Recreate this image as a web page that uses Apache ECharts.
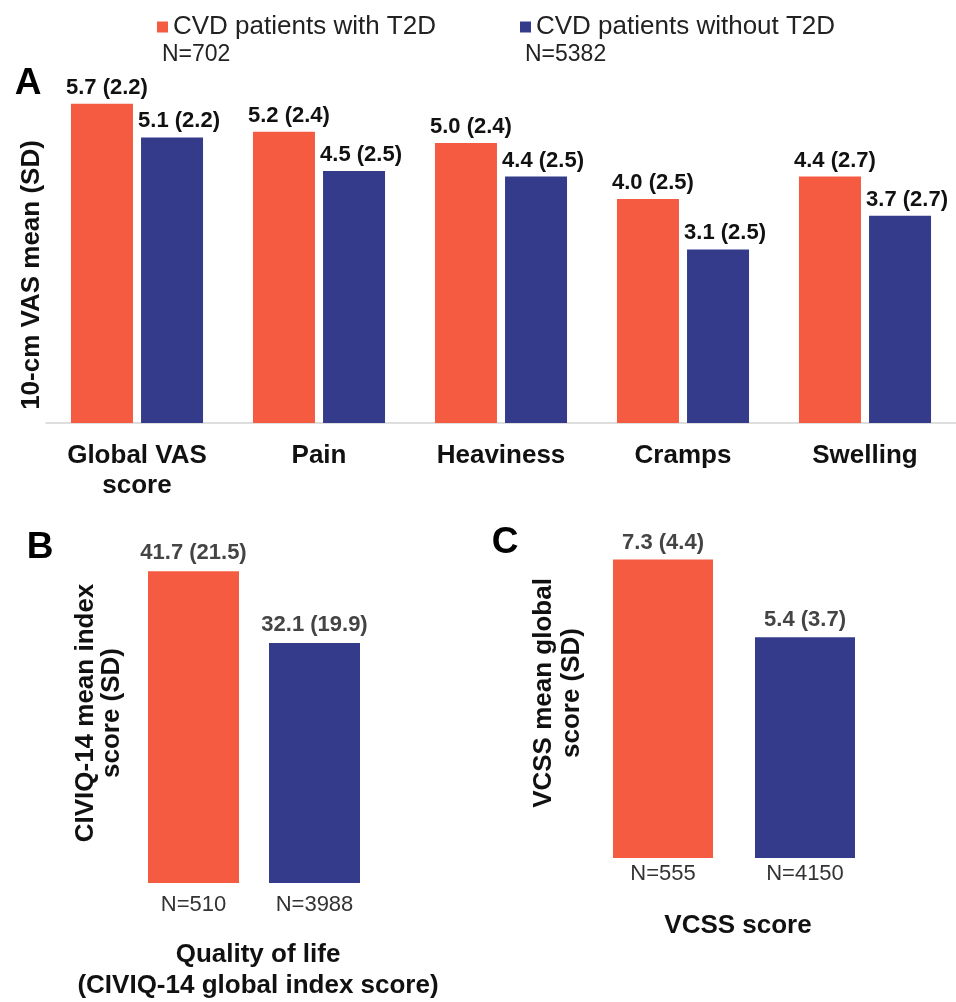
<!DOCTYPE html>
<html><head><meta charset="utf-8">
<script src="https://cdn.jsdelivr.net/npm/echarts@6/dist/echarts.min.js"></script>
<style>html,body{margin:0;padding:0;background:#fff}#c{width:956px;height:1002px}</style>
</head><body><div id="c"></div>
<script>
// ---- data ----
const seriesNames = ['CVD patients with T2D', 'CVD patients without T2D'];
const legendN = ['N=702', 'N=5382'];
const vasCategories = ['Global VAS\nscore', 'Pain', 'Heaviness', 'Cramps', 'Swelling'];
const vasWithT2D = [5.7, 5.2, 5.0, 4.0, 4.4];
const vasWithT2DSD = [2.2, 2.4, 2.4, 2.5, 2.7];
const vasWithoutT2D = [5.1, 4.5, 4.4, 3.1, 3.7];
const vasWithoutT2DSD = [2.2, 2.5, 2.5, 2.5, 2.7];
const qolCategories = ['N=510', 'N=3988'];
const qolMeans = [41.7, 32.1];
const qolSD = [21.5, 19.9];
const vcssCategories = ['N=555', 'N=4150'];
const vcssMeans = [7.3, 5.4];
const vcssSD = [4.4, 3.7];
const titles = {
  vasY: '10-cm VAS mean (SD)',
  qolY: 'CIVIQ-14 mean index\nscore (SD)',
  qolX: 'Quality of life\n(CIVIQ-14 global index score)',
  vcssY: 'VCSS mean global\nscore (SD)',
  vcssX: 'VCSS score'
};

// ---- style ----
const RED = '#F45B40';
const BLUE = '#353B8B';
const FONT = '"Liberation Sans", Arial, Helvetica, sans-serif';
const fmt = (v, sd) => v.toFixed(1) + ' (' + sd.toFixed(1) + ')';

const chart = echarts.init(document.getElementById('c'), null, {renderer: 'canvas'});

function hiddenY(idx, max) {
  return {type: 'value', gridIndex: idx, min: 0, max: max, show: false, splitLine: {show: false}};
}

const option = {
  backgroundColor: '#fff',
  animation: false,
  textStyle: {fontFamily: FONT},
  legend: {
    data: seriesNames,
    left: 152, top: 9,
    icon: 'rect', itemWidth: 11, itemHeight: 11, itemGap: 84,
    textStyle: {fontFamily: FONT, fontSize: 26, color: '#222', lineHeight: 26}
  },
  grid: [
    {left: 46, top: 87, width: 910, height: 336},
    {left: 133, top: 546.5, width: 242, height: 337.5},
    {left: 592, top: 490, width: 284, height: 368}
  ],
  xAxis: [
    {
      type: 'category', gridIndex: 0, data: vasCategories,
      axisLine: {lineStyle: {color: '#d4d4d4', width: 1.5}},
      axisTick: {show: false},
      axisLabel: {fontFamily: FONT, fontSize: 26, fontWeight: 'bold', color: '#111', lineHeight: 30, margin: 18, interval: 0}
    },
    {
      type: 'category', gridIndex: 1, data: qolCategories,
      axisLine: {show: false}, axisTick: {show: false},
      axisLabel: {fontFamily: FONT, fontSize: 22, color: '#333', margin: 11, interval: 0},
      name: titles.qolX, nameLocation: 'middle', nameGap: 56,
      nameTextStyle: {fontFamily: FONT, fontSize: 26, fontWeight: 'bold', color: '#111', lineHeight: 31, padding: [0, 0, 0, 8]}
    },
    {
      type: 'category', gridIndex: 2, data: vcssCategories,
      axisLine: {show: false}, axisTick: {show: false},
      axisLabel: {fontFamily: FONT, fontSize: 22, color: '#333', margin: 5, interval: 0},
      name: titles.vcssX, nameLocation: 'middle', nameGap: 52,
      nameTextStyle: {fontFamily: FONT, fontSize: 26, fontWeight: 'bold', color: '#111', lineHeight: 31, padding: [0, 0, 0, 8]}
    }
  ],
  yAxis: [hiddenY(0, 6), hiddenY(1, 45), hiddenY(2, 9)],
  series: [
    {
      name: seriesNames[0], type: 'bar', xAxisIndex: 0, yAxisIndex: 0,
      data: vasWithT2D, barWidth: 62, barGap: '13%',
      itemStyle: {color: RED},
      label: {show: true, position: 'top', distance: 5, offset: [5, 0], fontFamily: FONT, fontSize: 22, fontWeight: 'bold', color: '#111',
        formatter: p => fmt(vasWithT2D[p.dataIndex], vasWithT2DSD[p.dataIndex])}
    },
    {
      name: seriesNames[1], type: 'bar', xAxisIndex: 0, yAxisIndex: 0,
      data: vasWithoutT2D, barWidth: 62, barGap: '13%',
      itemStyle: {color: BLUE},
      label: {show: true, position: 'top', distance: 5, offset: [7, 0], fontFamily: FONT, fontSize: 22, fontWeight: 'bold', color: '#111',
        formatter: p => fmt(vasWithoutT2D[p.dataIndex], vasWithoutT2DSD[p.dataIndex])}
    },
    {
      name: 'qol', type: 'bar', xAxisIndex: 1, yAxisIndex: 1, barWidth: 91,
      data: qolMeans.map((v, i) => ({value: v, itemStyle: {color: i === 0 ? RED : BLUE}})),
      label: {show: true, position: 'top', distance: 7, fontFamily: FONT, fontSize: 22, fontWeight: 'bold', color: '#444',
        formatter: p => fmt(qolMeans[p.dataIndex], qolSD[p.dataIndex])}
    },
    {
      name: 'vcss', type: 'bar', xAxisIndex: 2, yAxisIndex: 2, barWidth: 100,
      data: vcssMeans.map((v, i) => ({value: v, itemStyle: {color: i === 0 ? RED : BLUE}})),
      label: {show: true, position: 'top', distance: 6, fontFamily: FONT, fontSize: 22, fontWeight: 'bold', color: '#444',
        formatter: p => fmt(vcssMeans[p.dataIndex], vcssSD[p.dataIndex])}
    }
  ],
  graphic: [
    {type: 'text', x: 162, y: 55, style: {text: legendN[0], fontFamily: FONT, fontSize: 23, fill: '#222', textVerticalAlign: 'middle'}},
    {type: 'text', x: 525, y: 55, style: {text: legendN[1], fontFamily: FONT, fontSize: 23, fill: '#222', textVerticalAlign: 'middle'}},
    {type: 'text', x: 28, y: 84, style: {text: 'A', fontFamily: FONT, fontSize: 37, fontWeight: 'bold', fill: '#000', textAlign: 'center', textVerticalAlign: 'middle'}},
    {type: 'text', x: 40, y: 548, style: {text: 'B', fontFamily: FONT, fontSize: 37, fontWeight: 'bold', fill: '#000', textAlign: 'center', textVerticalAlign: 'middle'}},
    {type: 'text', x: 505, y: 543, style: {text: 'C', fontFamily: FONT, fontSize: 37, fontWeight: 'bold', fill: '#000', textAlign: 'center', textVerticalAlign: 'middle'}},
    {type: 'text', x: 32, y: 275, rotation: Math.PI / 2,
      style: {text: titles.vasY, fontFamily: FONT, fontSize: 26, fontWeight: 'bold', fill: '#111', textAlign: 'center', textVerticalAlign: 'middle'}},
    {type: 'text', x: 99, y: 713, rotation: Math.PI / 2,
      style: {text: titles.qolY, fontFamily: FONT, fontSize: 26, fontWeight: 'bold', fill: '#111', lineHeight: 26, textAlign: 'center', textVerticalAlign: 'middle'}},
    {type: 'text', x: 558, y: 693, rotation: Math.PI / 2,
      style: {text: titles.vcssY, fontFamily: FONT, fontSize: 26, fontWeight: 'bold', fill: '#111', lineHeight: 28, textAlign: 'center', textVerticalAlign: 'middle'}}
  ]
};
chart.setOption(option);
</script>
</body></html>
